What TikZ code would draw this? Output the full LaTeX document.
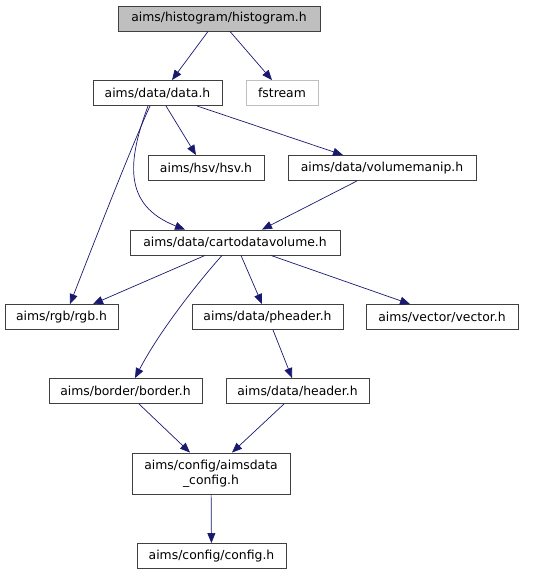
\documentclass[tikz,border=0pt]{standalone}
\usepackage{fontspec}
\setmainfont{DejaVu Sans}
\usetikzlibrary{arrows.meta}
\definecolor{edgeblue}{HTML}{191970}
\definecolor{boxgray}{HTML}{404040}
\definecolor{headgray}{HTML}{BFBFBF}

\begin{document}
\begin{tikzpicture}[x=1pt,y=-1pt]
		\tikzset{
			file/.style={draw=boxgray, fill=white, line width=0.9pt, minimum height=25, inner sep=0pt, font=\fontsize{12.4}{14.5}\selectfont},
			topfile/.style={file, fill=headgray},
			sysfile/.style={file, draw=headgray},
			dep/.style={draw=edgeblue, line width=0.7pt, -{Triangle[length=10pt,width=8pt]}}
		}
		\useasboundingbox (0,0) rectangle (535,575);
		% files
		\node [topfile, minimum width=202] (hist) at (219,18.5) {aims/histogram/histogram.h};
		\node [file, minimum width=129] (data) at (157.5,93) {aims/data/data.h};
		\node [sysfile, minimum width=72] (fstream) at (282,93) {fstream};
		\node [file, minimum width=116] (hsv) at (206,168) {aims/hsv/hsv.h};
		\node [file, minimum width=188] (volman) at (382,168) {aims/data/volumemanip.h};
		\node [file, minimum width=210] (carto) at (235,242.5) {aims/data/cartodatavolume.h};
		\node [file, minimum width=113] (rgb) at (61.5,317) {aims/rgb/rgb.h};
		\node [file, minimum width=151] (pheader) at (267.5,317) {aims/data/pheader.h};
		\node [file, minimum width=152] (vector) at (442,317) {aims/vector/vector.h};
		\node [file, minimum width=153] (border) at (125.5,391) {aims/border/border.h};
		\node [file, minimum width=143] (header) at (297.5,391) {aims/data/header.h};
		\node [file, minimum width=158, minimum height=41, align=center] (aconf) at (211,473.5) {aims/config/aimsdata\\\_config.h};
		\node [file, minimum width=149] (config) at (211.5,556) {aims/config/config.h};
		% includes
		\draw [dep] ([xshift=-11]hist.south) -- ([xshift=14.5]data.north);
		\draw [dep] ([xshift=11]hist.south) -- ([xshift=-10]fstream.north);
		\draw [dep] ([xshift=8.5]data.south) -- ([xshift=-10]hsv.north);
		\draw [dep] ([xshift=39.5]data.south) -- ([xshift=-39]volman.north);
		\draw [dep] ([xshift=-7.5]data.south) .. controls (130,150) and (95,240) .. ([xshift=8.5]rgb.north);
		\draw [dep] ([xshift=-9.5]data.south) .. controls (128,160) and (122,205) .. ([xshift=-50]carto.north);
		\draw [dep] ([xshift=-25]volman.south) -- ([xshift=27]carto.north);
		\draw [dep] ([xshift=-30]carto.south) -- ([xshift=31.5]rgb.north);
		\draw [dep] ([xshift=-13]carto.south) .. controls (200,280) and (160,330) .. ([xshift=9.5]border.north);
		\draw [dep] ([xshift=6]carto.south) -- ([xshift=-5.5]pheader.north);
		\draw [dep] ([xshift=36]carto.south) -- ([xshift=-32]vector.north);
		\draw [dep] ([xshift=5.5]pheader.south) -- ([xshift=-5.5]header.north);
		\draw [dep] ([xshift=13.5]border.south) -- ([xshift=-21]aconf.north);
		\draw [dep] ([xshift=-13.5]header.south) -- ([xshift=21]aconf.north);
		\draw [dep] (aconf) -- (config);
	\end{tikzpicture}
\end{document}
